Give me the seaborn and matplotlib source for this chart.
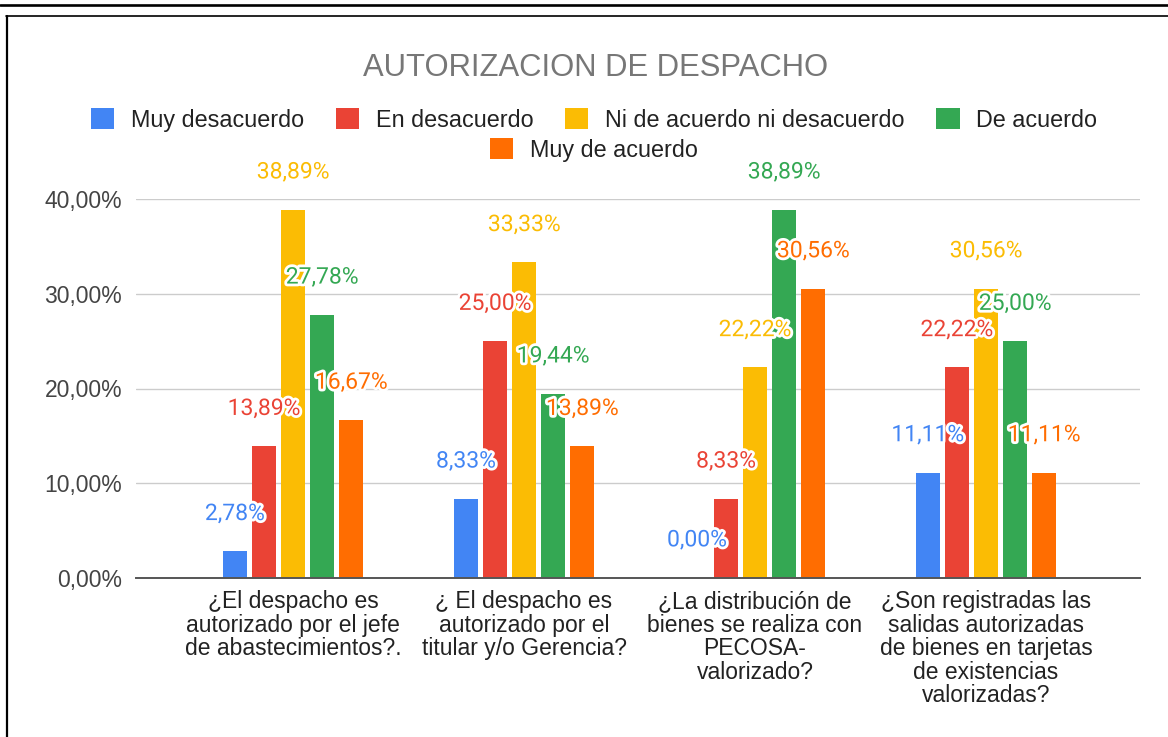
import matplotlib
matplotlib.use("Agg")
import matplotlib.pyplot as plt
import matplotlib.patheffects as pe
from matplotlib.lines import Line2D
from matplotlib.ticker import FuncFormatter
import seaborn as sns
import pandas as pd

# ---------------- data ----------------
categories = [
    "¿El despacho es\nautorizado por el jefe\nde abastecimientos?.",
    "¿ El despacho es\nautorizado por el\ntitular y/o Gerencia?",
    "¿La distribución de\nbienes se realiza con\nPECOSA-\nvalorizado?",
    "¿Son registradas las\nsalidas autorizadas\nde bienes en tarjetas\nde existencias\nvalorizadas?",
]
series_names = ["Muy desacuerdo", "En desacuerdo", "Ni de acuerdo ni desacuerdo",
                "De acuerdo", "Muy de acuerdo"]
muy_desacuerdo = [2.78, 8.33, 0.00, 11.11]
en_desacuerdo = [13.89, 25.00, 8.33, 22.22]
ni_ni = [38.89, 33.33, 22.22, 30.56]
de_acuerdo = [27.78, 19.44, 38.89, 25.00]
muy_de_acuerdo = [16.67, 13.89, 30.56, 11.11]
y_ticks = [0, 10, 20, 30, 40]
title = "AUTORIZACION DE DESPACHO"

colors = ["#4285F4", "#EA4335", "#FBBC04", "#34A853", "#FF6D01"]

all_values = [muy_desacuerdo, en_desacuerdo, ni_ni, de_acuerdo, muy_de_acuerdo]
rows = []
for name, vals in zip(series_names, all_values):
    for cat, v in zip(categories, vals):
        rows.append({"cat": cat, "serie": name, "val": v})
df = pd.DataFrame(rows)

# ---------------- style ----------------
sns.set_style("white")
plt.rcParams["font.family"] = ["Liberation Sans", "DejaVu Sans"]

W, H = 1168, 737
fig = plt.figure(figsize=(W / 100, H / 100), dpi=100)
ax = fig.add_axes([136 / W, 1 - 577.7 / H, (1140 - 136) / W, (577.7 - 199.3) / H])

sns.barplot(data=df, x="cat", y="val", hue="serie", hue_order=series_names,
            order=categories, palette=colors, width=0.63, gap=0.16,
            linewidth=0, saturation=1, ax=ax, errorbar=None)

handles, labels = ax.get_legend_handles_labels()
if ax.get_legend() is not None:
    ax.get_legend().remove()

ax.set_xlim(-0.68, 3.667)
ax.set_ylim(0, 40)
ax.set_yticks(y_ticks)
ax.yaxis.set_major_formatter(FuncFormatter(lambda v, p: f"{v:.2f}%".replace(".", ",")))
ax.grid(axis="y", color="#cccccc", linewidth=1.0)
ax.set_axisbelow(True)
for s in ["top", "right", "left"]:
    ax.spines[s].set_visible(False)
ax.spines["bottom"].set_color("#555555")
ax.spines["bottom"].set_linewidth(1.4)
ax.set_xlabel("")
ax.set_ylabel("")
ax.tick_params(axis="y", length=0, pad=10, labelsize=16.5, labelcolor="#444444")
ax.tick_params(axis="x", length=0, pad=9, labelsize=16.5, labelcolor="#222222")
for t in ax.get_xticklabels():
    t.set_linespacing(1.03)

# data labels
for cont, col in zip(ax.containers, colors):
    for bar in cont:
        h = bar.get_height()
        ax.text(bar.get_x() + bar.get_width() / 2, h + 4.0,
                f"{h:.2f}%".replace(".", ","), ha="center", va="center",
                fontsize=16.5, color=col, family=["Roboto", "DejaVu Sans"],
                path_effects=[pe.withStroke(linewidth=4, foreground="white")],
                zorder=5, clip_on=False)

# title
fig.text(596 / W, 1 - 68 / H, title, ha="center", va="center",
         fontsize=22.3, color="#777777")

# legend (two centered rows)
leg_kw = dict(frameon=False, handlelength=1.0, handleheight=1.0,
              handletextpad=0.72, columnspacing=1.36, fontsize=16.8,
              labelcolor="#222222", borderpad=0, borderaxespad=0)
fig.legend(handles[:4], labels[:4], loc="center", ncol=4,
           bbox_to_anchor=(594 / W, 1 - 120 / H), **leg_kw)
fig.legend(handles[4:], labels[4:], loc="center", ncol=1,
           bbox_to_anchor=(594 / W, 1 - 150 / H), **leg_kw)

# frame lines of the screenshot
fig.add_artist(Line2D([0, 1], [1 - 4.5 / H, 1 - 4.5 / H], transform=fig.transFigure,
                      color="black", linewidth=1.9))
fig.add_artist(Line2D([6 / W, 1], [1 - 15.8 / H, 1 - 15.8 / H], transform=fig.transFigure,
                      color="black", linewidth=1.2))
fig.add_artist(Line2D([7 / W, 7 / W], [0, 1 - 15.8 / H], transform=fig.transFigure,
                      color="black", linewidth=1.6))

fig.savefig("out.png", dpi=100)
